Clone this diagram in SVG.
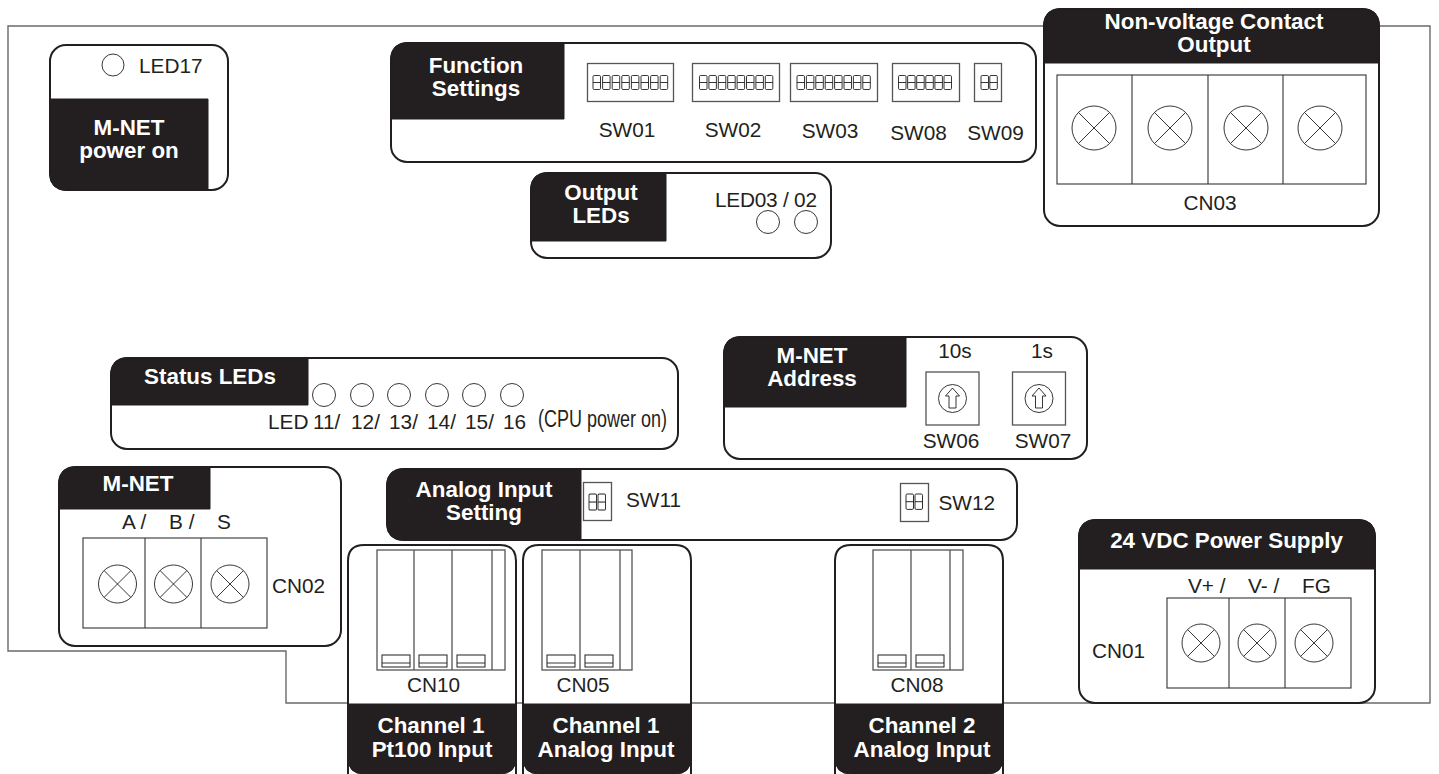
<svg xmlns="http://www.w3.org/2000/svg" width="1439" height="774" viewBox="0 0 1439 774">
<style>
text{font-family:"Liberation Sans",Arial,sans-serif;fill:#231f20;font-size:20.800px}
.m{text-anchor:middle}
.h{font-weight:bold;fill:#fff;font-size:22.400px;text-anchor:middle}
.p{fill:#fff;stroke:#231f20;stroke-width:2}
.d{fill:#231f20;stroke:#231f20;stroke-width:1}
.o{fill:none;stroke:#6a6a6a;stroke-width:1.4}
.l{fill:#fff;stroke:#333;stroke-width:1.1}
.g{fill:none;stroke:#555;stroke-width:1.3}
.c{fill:#fff;stroke:#231f20;stroke-width:.9}
.t{fill:none;stroke:#231f20;stroke-width:.9}
</style>
<defs>
<g id="x"><circle class="c" r="19"/><path class="t" d="M-13.400-13.400L13.400 13.400M13.400-13.400L-13.400 13.400"/></g>
<g id="X"><circle class="c" r="22"/><path class="t" d="M-15.500-15.500L15.500 15.500M15.500-15.500L-15.500 15.500"/></g>
<g id="k"><rect class="t" x="0" y="0" width="7.500" height="14" rx="1.200"/><path class="t" d="M0 7H7.500"/></g>
<g id="r"><rect class="g" x="-26.500" y="-26.500" width="53" height="53"/><circle class="t" r="14"/><path class="t" d="M0-10.500L7-2.500H3.500V9.500H-3.500V-2.500H-7Z"/></g>
<g id="q"><rect class="l" x="0" y="0" width="28" height="12"/><path class="t" d="M0 8H28"/></g>
</defs>
<g id="connectors"><path class="o" d="M8 26H1430V703H286V651H8Z"/></g>
<g id="led17"><rect class="p" x="50" y="45" width="178" height="145" rx="16"/><path class="d" d="M50 99H208V190H66Q50 190 50 174Z"/><circle class="c" cx="113" cy="65" r="11"/><text x="139" y="73">LED17</text><text class="h" x="129" y="135">M-NET</text><text class="h" x="129" y="158">power on</text></g>
<g id="function-settings"><rect class="p" x="391" y="43" width="645" height="119" rx="16"/><path class="d" d="M391 119V59Q391 43 407 43H564V119Z"/><text class="h" x="476" y="73">Function</text><text class="h" x="476" y="96">Settings</text>
<rect class="g" x="587.500" y="63.500" width="86" height="38"/><rect class="g" x="692.500" y="63.500" width="87" height="38"/><rect class="g" x="790.500" y="63.500" width="87" height="38"/><rect class="g" x="892.500" y="63.500" width="67" height="38"/><rect class="g" x="974.500" y="63.500" width="27" height="38"/>
<use href="#k" x="593" y="75.500"/><use href="#k" x="602.600" y="75.500"/><use href="#k" x="612.200" y="75.500"/><use href="#k" x="621.800" y="75.500"/><use href="#k" x="631.400" y="75.500"/><use href="#k" x="641" y="75.500"/><use href="#k" x="650.600" y="75.500"/><use href="#k" x="660.200" y="75.500"/>
<use href="#k" x="699.500" y="75.500"/><use href="#k" x="708.900" y="75.500"/><use href="#k" x="718.300" y="75.500"/><use href="#k" x="727.700" y="75.500"/><use href="#k" x="737.100" y="75.500"/><use href="#k" x="746.500" y="75.500"/><use href="#k" x="755.900" y="75.500"/><use href="#k" x="765.300" y="75.500"/>
<use href="#k" x="797" y="75.500"/><use href="#k" x="806.400" y="75.500"/><use href="#k" x="815.800" y="75.500"/><use href="#k" x="825.200" y="75.500"/><use href="#k" x="834.600" y="75.500"/><use href="#k" x="844" y="75.500"/><use href="#k" x="853.400" y="75.500"/><use href="#k" x="862.800" y="75.500"/>
<use href="#k" x="898.500" y="75.500"/><use href="#k" x="907.600" y="75.500"/><use href="#k" x="916.700" y="75.500"/><use href="#k" x="925.800" y="75.500"/><use href="#k" x="934.900" y="75.500"/><use href="#k" x="944" y="75.500"/>
<use href="#k" x="981" y="75.500"/><use href="#k" x="989.800" y="75.500"/>
<text class="m" x="627" y="137">SW01</text><text class="m" x="733" y="137">SW02</text><text class="m" x="830" y="138">SW03</text><text class="m" x="918.500" y="140">SW08</text><text class="m" x="995.500" y="140">SW09</text></g>
<g id="output-leds"><rect class="p" x="531" y="173" width="300" height="85" rx="16"/><path class="d" d="M531 241V189Q531 173 547 173H666V241Z"/><text class="h" x="601" y="200">Output</text><text class="h" x="601" y="223">LEDs</text><text x="715" y="207" textLength="102">LED03 / 02</text><circle class="c" cx="768" cy="222" r="11.500"/><circle class="c" cx="806" cy="222" r="11.500"/></g>
<g id="noncontact"><rect class="p" x="1044" y="9" width="335" height="217" rx="16"/><path class="d" d="M1044 63V25Q1044 9 1060 9H1363Q1379 9 1379 25V63Z"/><text class="h" x="1214" y="29">Non-voltage Contact</text><text class="h" x="1214" y="52">Output</text><rect class="l" x="1057" y="75" width="309" height="109"/><path class="l" d="M1132 75V184M1208 75V184M1283 75V184"/><use href="#X" x="1094" y="128"/><use href="#X" x="1170" y="128"/><use href="#X" x="1246" y="128"/><use href="#X" x="1320" y="128"/><text class="m" x="1210" y="210">CN03</text></g>
<g id="status-leds"><rect class="p" x="111" y="358" width="567" height="91" rx="16"/><path class="d" d="M111 405V374Q111 358 127 358H308V405Z"/><text class="h" x="210" y="384">Status LEDs</text><circle class="c" cx="324" cy="395" r="11.500"/><circle class="c" cx="362" cy="395" r="11.500"/><circle class="c" cx="399" cy="395" r="11.500"/><circle class="c" cx="437" cy="395" r="11.500"/><circle class="c" cx="474" cy="395" r="11.500"/><circle class="c" cx="512" cy="395" r="11.500"/><text x="268" y="429">LED</text><text x="313" y="429">11/</text><text x="351" y="429">12/</text><text x="389" y="429">13/</text><text x="427" y="429">14/</text><text x="465" y="429">15/</text><text x="503" y="429">16</text><text x="538" y="427" style="font-size:23px" textLength="129" lengthAdjust="spacingAndGlyphs">(CPU power on)</text></g>
<g id="mnet-address"><rect class="p" x="724" y="337" width="363" height="122" rx="16"/><path class="d" d="M724 407V353Q724 337 740 337H906V407Z"/><text class="h" x="812" y="363">M-NET</text><text class="h" x="812" y="386">Address</text><text class="m" x="955" y="358">10s</text><text class="m" x="1042" y="358">1s</text><use href="#r" x="952.500" y="398.500"/><use href="#r" x="1039" y="398.500"/><text class="m" x="951" y="448">SW06</text><text class="m" x="1043" y="448">SW07</text></g>
<g id="analog-setting"><rect class="p" x="387" y="469" width="630" height="71" rx="16"/><path class="d" d="M581 469H403Q387 469 387 485V524Q387 540 403 540H581Z"/><text class="h" x="484" y="496.500">Analog Input</text><text class="h" x="484" y="519.500">Setting</text><rect class="g" x="583.500" y="482.500" width="28" height="38"/><use href="#k" transform="translate(589 494) scale(1 1.150)"/><use href="#k" transform="translate(598 494) scale(1 1.150)"/><text x="626" y="507">SW11</text><rect class="g" x="900.500" y="483.500" width="28" height="38"/><use href="#k" transform="translate(906 494) scale(1 1.100)"/><use href="#k" transform="translate(915 494) scale(1 1.100)"/><text x="938.500" y="510">SW12</text></g>
<g id="mnet"><rect class="p" x="59" y="467" width="282" height="179" rx="16"/><path class="d" d="M59 509V483Q59 467 75 467H210V509Z"/><text class="h" x="138" y="491">M-NET</text><text x="122" y="529">A /</text><text x="169" y="529">B /</text><text x="217" y="529">S</text><rect class="l" x="83" y="538" width="184" height="90"/><path class="l" d="M145 538V628M201 538V628"/><use href="#x" x="117.500" y="584"/><use href="#x" x="173.500" y="584"/><use href="#x" x="230" y="584"/><text x="272" y="593">CN02</text></g>
<g id="ch1-pt100"><path class="p" d="M348 774V561Q348 545 364 545H500Q516 545 516 561V774"/><path class="d" d="M348 704H516V758Q516 774 500 774H364Q348 774 348 758Z"/><rect class="g" x="377" y="550" width="128" height="120"/><path class="g" d="M414 550V670M452 550V670M492 550V670"/><use href="#q" x="382" y="655"/><use href="#q" x="419" y="655"/><use href="#q" x="457" y="655"/><text class="m" x="433.500" y="692">CN10</text><text class="h" x="431" y="733">Channel 1</text><text class="h" x="432" y="757">Pt100 Input</text></g>
<g id="ch1-analog"><path class="p" d="M523 774V561Q523 545 539 545H675Q691 545 691 561V774"/><path class="d" d="M523 704H691V758Q691 774 675 774H539Q523 774 523 758Z"/><rect class="g" x="542" y="550" width="90" height="120"/><path class="g" d="M580 550V670M620 550V670"/><use href="#q" x="547" y="655"/><use href="#q" x="585" y="655"/><text class="m" x="583" y="692">CN05</text><text class="h" x="606" y="733">Channel 1</text><text class="h" x="606" y="757">Analog Input</text></g>
<g id="ch2-analog"><path class="p" d="M835 774V561Q835 545 851 545H987Q1003 545 1003 561V774"/><path class="d" d="M835 704H1003V758Q1003 774 987 774H851Q835 774 835 758Z"/><rect class="g" x="873" y="550" width="90" height="120"/><path class="g" d="M911 550V670M950 550V670"/><use href="#q" x="878" y="655"/><use href="#q" x="916" y="655"/><text class="m" x="917" y="692">CN08</text><text class="h" x="922" y="733">Channel 2</text><text class="h" x="922" y="757">Analog Input</text></g>
<g id="power"><rect class="p" x="1079" y="520" width="296" height="183" rx="16"/><path class="d" d="M1079 569V536Q1079 520 1095 520H1359Q1375 520 1375 536V569Z"/><text class="h" x="1226.500" y="548">24 VDC Power Supply</text><text x="1188" y="593">V+ /</text><text x="1248" y="593">V- /</text><text x="1302" y="593">FG</text><rect class="l" x="1167" y="598" width="184" height="90"/><path class="l" d="M1229 598V688M1285 598V688"/><use href="#x" x="1201" y="643"/><use href="#x" x="1257" y="643"/><use href="#x" x="1314" y="643"/><text x="1092" y="658">CN01</text></g>
</svg>
